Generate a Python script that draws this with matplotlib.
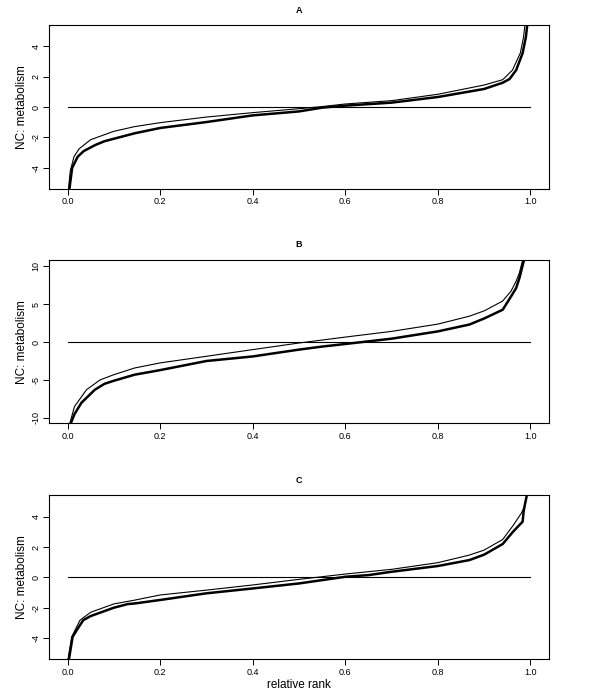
import matplotlib
matplotlib.use("Agg")
import matplotlib.pyplot as plt
import numpy as np

plt.rcParams['font.family'] = ['Liberation Sans', 'DejaVu Sans']

panel_titles = ["A", "B", "C"]
y_label = "NC: metabolism"
x_label = "relative rank"
x_ticks = [0.0, 0.2, 0.4, 0.6, 0.8, 1.0]
x_tick_labels = ["0.0", "0.2", "0.4", "0.6", "0.8", "1.0"]
y_ticks_A = [-4, -2, 0, 2, 4]
y_ticks_B = [-10, -5, 0, 5, 10]
y_ticks_C = [-4, -2, 0, 2, 4]

# Panel A
a_thin_x = [0.0, 0.002, 0.006, 0.014, 0.025, 0.05, 0.1, 0.145, 0.2, 0.3, 0.4, 0.5, 0.55,
            0.6, 0.7, 0.8, 0.9, 0.94, 0.961, 0.978, 0.985, 0.988, 0.992]
a_thin_y = [-7, -5.4, -4.2, -3.27, -2.75, -2.15, -1.6, -1.29, -1.03, -0.66, -0.37, -0.11, 0.03,
            0.2, 0.42, 0.84, 1.45, 1.8, 2.43, 3.55, 4.6, 5.4, 7]
a_thick_x = [0.0, 0.004, 0.01, 0.022, 0.035, 0.06, 0.08, 0.1, 0.145, 0.2, 0.3, 0.4, 0.5, 0.55,
             0.6, 0.7, 0.8, 0.9, 0.94, 0.955, 0.969, 0.983, 0.99, 0.993, 0.996]
a_thick_y = [-7, -5.4, -4.0, -3.27, -2.9, -2.5, -2.25, -2.09, -1.73, -1.38, -0.99, -0.55, -0.29, -0.04,
             0.09, 0.29, 0.66, 1.19, 1.6, 1.85, 2.43, 3.55, 4.6, 5.4, 7]

# Panel B
b_thin_x = [0.0, 0.005, 0.015, 0.041, 0.07, 0.1, 0.145, 0.2, 0.3, 0.4, 0.5, 0.6, 0.7, 0.8,
            0.868, 0.9, 0.94, 0.958, 0.969, 0.976, 0.983, 0.99]
b_thin_y = [-13, -10.7, -8.5, -6.28, -5.0, -4.3, -3.42, -2.75, -1.88, -1.0, -0.13, 0.65, 1.4, 2.36,
            3.4, 4.1, 5.4, 6.7, 8.0, 9.1, 10.8, 13]
b_thick_x = [0.0, 0.007, 0.015, 0.03, 0.059, 0.08, 0.1, 0.145, 0.2, 0.3, 0.4, 0.5, 0.55, 0.6,
             0.65, 0.7, 0.8, 0.868, 0.9, 0.94, 0.958, 0.969, 0.976, 0.986, 0.995]
b_thick_y = [-13, -10.7, -9.5, -8.0, -6.28, -5.5, -5.1, -4.3, -3.7, -2.5, -1.9, -1.0, -0.6, -0.26,
             0.09, 0.44, 1.4, 2.3, 3.1, 4.25, 6.0, 7.1, 8.4, 10.8, 13]

# Panel C
c_thin_x = [0.0, 0.001, 0.009, 0.027, 0.05, 0.1, 0.145, 0.2, 0.3, 0.4, 0.5, 0.6, 0.7, 0.8,
            0.868, 0.9, 0.94, 0.962, 0.98, 0.987, 0.992, 0.996]
c_thin_y = [-7, -5.4, -3.92, -2.82, -2.3, -1.75, -1.5, -1.16, -0.84, -0.5, -0.13, 0.22, 0.53, 0.97,
            1.47, 1.8, 2.5, 3.4, 4.22, 4.66, 5.4, 7]
c_thick_x = [0.0, 0.003, 0.011, 0.02, 0.034, 0.05, 0.1, 0.13, 0.145, 0.2, 0.3, 0.4, 0.5, 0.6, 0.65,
             0.7, 0.8, 0.868, 0.9, 0.94, 0.962, 0.976, 0.983, 0.985, 0.987, 0.992, 0.996]
c_thick_y = [-7, -5.4, -3.92, -3.47, -2.82, -2.55, -2.0, -1.76, -1.72, -1.49, -1.05, -0.73, -0.4, 0.04, 0.15,
             0.37, 0.75, 1.14, 1.5, 2.2, 3.0, 3.45, 3.67, 4.3, 4.66, 5.4, 7]

panels = [
    (a_thin_x, a_thin_y, a_thick_x, a_thick_y, y_ticks_A, (-5.4, 5.4)),
    (b_thin_x, b_thin_y, b_thick_x, b_thick_y, y_ticks_B, (-10.7, 10.8)),
    (c_thin_x, c_thin_y, c_thick_x, c_thick_y, y_ticks_C, (-5.4, 5.43)),
]
positions = [
    [0.0817, 0.7288, 0.8333, 0.2353],
    [0.0817, 0.3927, 0.8333, 0.2343],
    [0.0817, 0.0541, 0.8333, 0.2357],
]

fig = plt.figure(figsize=(6.0, 6.97), dpi=100)
for i, (tx, ty, kx, ky, yt, ylim) in enumerate(panels):
    ax = fig.add_axes(positions[i])
    ax.plot([0, 1], [0, 0], color='black', lw=0.8)
    ax.plot(tx, ty, color='black', lw=0.8)
    ax.plot(kx, ky, color='black', lw=1.8)
    ax.set_xlim(-0.04, 1.04)
    ax.set_ylim(*ylim)
    ax.set_xticks(x_ticks)
    ax.set_xticklabels(x_tick_labels)
    ax.set_yticks(yt)
    ax.set_yticklabels([str(v) for v in yt], rotation=90, va='center')
    ax.tick_params(axis='both', direction='out', length=4, width=0.7, labelsize=6.5,
                   colors='black', pad=2)
    for s in ax.spines.values():
        s.set_linewidth(0.8)
    ax.set_title(panel_titles[i], fontsize=6.5, fontweight='bold', pad=9)
    ax.set_ylabel(y_label, fontsize=8.5, labelpad=3)
    if i == 2:
        ax.set_xlabel(x_label, fontsize=8.5, labelpad=2)

fig.savefig("out.png", dpi=100)
